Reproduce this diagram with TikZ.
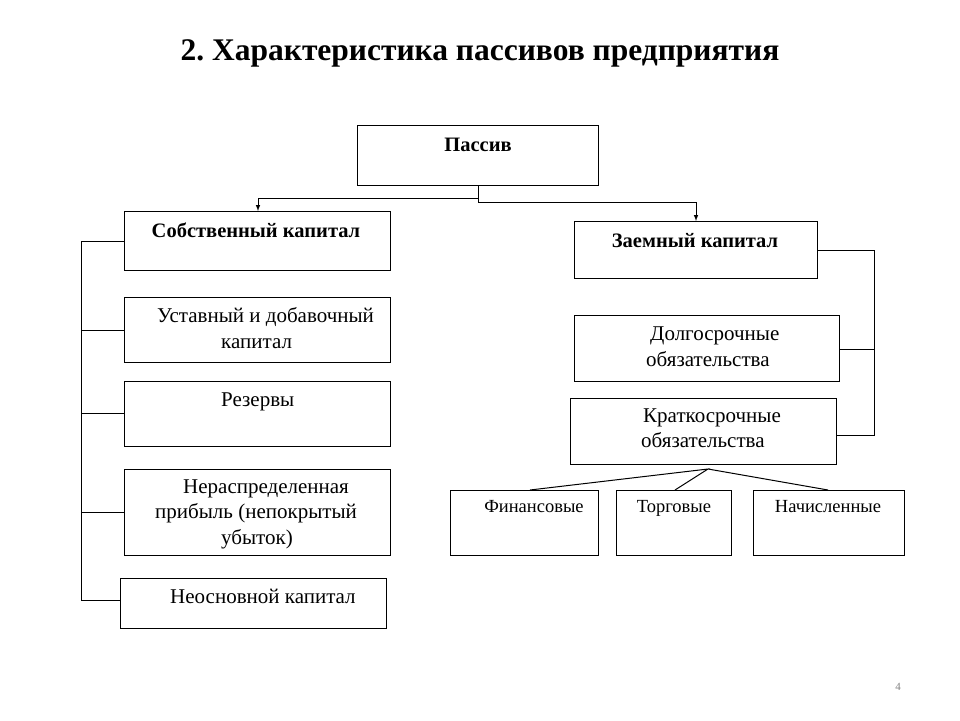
\documentclass[tikz,border=0pt]{standalone}
\usepackage{fontspec}
\setmainfont{Liberation Serif}
\begin{document}
\begin{tikzpicture}[x=1pt,y=-1pt,
  bx/.style={draw,line width=1pt},
  ln/.style={line width=1pt},
  tx/.style={anchor=base west,inner sep=0pt,font=\fontsize{21}{24}\selectfont},
  bt/.style={anchor=base,inner sep=0pt,font=\fontsize{20.5}{24}\selectfont\bfseries},
  sm/.style={anchor=base,inner sep=0pt,font=\fontsize{18.5}{20}\selectfont}]
\useasboundingbox (0,0) rectangle (960,720);
\node[anchor=base,font=\fontsize{31.5}{36}\selectfont\bfseries] (title) at (480,60) {2.~Характеристика пассивов предприятия};
\draw[bx] (357,125) rectangle (598,185);
\coordinate (p) at (478,185);
\node[bt] (tp) at (478,151) {Пассив};
\draw[bx] (124,211) rectangle (390,270);
\coordinate (s) at (258,211);
\node[bt] (ts) at (256,237) {Собственный капитал};
\draw[bx] (574,221) rectangle (817,278);
\coordinate (z) at (696,221);
\node[bt] (tz) at (695,247) {Заемный капитал};
\draw[bx] (124,297) rectangle (390,362);
\node[tx] (u1) at (157,322) {Уставный и добавочный};
\node[tx] (u2) at (221,348) {капитал};
\draw[bx] (124,381) rectangle (390,446);
\node[tx] (r1) at (221,406) {Резервы};
\draw[bx] (124,469) rectangle (390,555);
\node[tx] (n1) at (183,493) {Нераспределенная};
\node[tx] (n2) at (155,518) {прибыль (непокрытый};
\node[tx] (n3) at (221,544) {убыток)};
\draw[bx] (120,578) rectangle (386,628);
\node[tx] (no) at (170,603) {Неосновной капитал};
\draw[bx] (574,315) rectangle (839,381);
\node[tx] (d1) at (650,340) {Долгосрочные};
\node[tx] (d2) at (646,366) {обязательства};
\draw[bx] (570,398) rectangle (836,464);
\node[tx] (k1) at (643,422) {Краткосрочные};
\node[tx] (k2) at (641,447) {обязательства};
\coordinate (k) at (708,469);
\draw[bx] (450,490) rectangle (598,555);
\node[sm] (f) at (534,512) {Финансовые};
\draw[bx] (616,490) rectangle (731,555);
\node[sm] (t) at (674,512) {Торговые};
\draw[bx] (753,490) rectangle (904,555);
\node[sm] (na) at (828,512) {Начисленные};
\draw[ln,-latex] (p) -- (478,198) -- (258,198) -- (s);
\draw[ln,-latex] (p) -- (478,202) -- (696,202) -- (z);
\draw[ln] (124,241) -- (81,241) -- (81,600) -- (120,600);
\draw[ln] (81,330) -- (124,330) (81,413) -- (124,413) (81,512) -- (124,512);
\draw[ln] (817,250) -- (874,250) -- (874,435) -- (836,435) (839,349) -- (874,349);
\draw[ln] (530,490) -- (k) -- (675,490) (k) -- (828,490);
\node[anchor=base,font=\fontsize{11}{12}\selectfont,text=gray] (pg) at (898,690) {4};
\end{tikzpicture}
\end{document}
